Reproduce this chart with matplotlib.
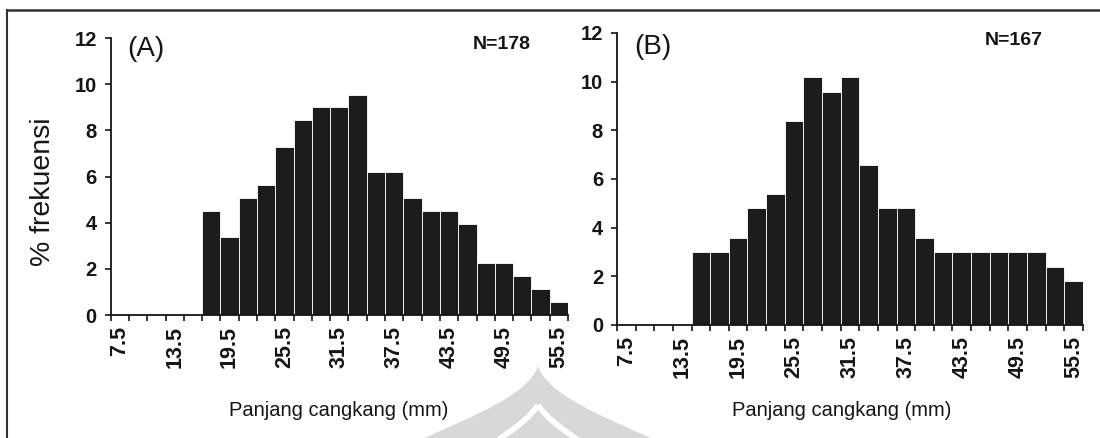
import matplotlib
matplotlib.use("Agg")
import matplotlib.pyplot as plt
from matplotlib.lines import Line2D
from matplotlib.path import Path
from matplotlib.patches import PathPatch
from matplotlib.transforms import Affine2D

# Shell length classes (mm), 2 mm bins
size_classes = [7.5, 9.5, 11.5, 13.5, 15.5, 17.5, 19.5, 21.5, 23.5, 25.5, 27.5,
                29.5, 31.5, 33.5, 35.5, 37.5, 39.5, 41.5, 43.5, 45.5, 47.5,
                49.5, 51.5, 53.5, 55.5]

# Percent frequency per class
freq_a = [0, 0, 0, 0, 0, 4.49, 3.37, 5.06, 5.62, 7.30, 8.43, 8.99, 8.99,
          9.55, 6.18, 6.18, 5.06, 4.49, 4.49, 3.93, 2.25, 2.25, 1.69, 1.12, 0.56]
freq_b = [0, 0, 0, 0, 2.99, 2.99, 3.59, 4.79, 5.39, 8.38, 10.18, 9.58, 10.18,
          6.59, 4.79, 4.79, 3.59, 2.99, 2.99, 2.99, 2.99, 2.99, 2.99, 2.40, 1.80]

shown_labels = ["7.5", "13.5", "19.5", "25.5", "31.5", "37.5", "43.5", "49.5", "55.5"]
y_ticks = [0, 2, 4, 6, 8, 10, 12]

panel_tags = ["(A)", "(B)"]
sample_sizes = ["N=178", "N=167"]
x_title = "Panjang cangkang (mm)"
y_title = "% frekuensi"

FONT = ["Liberation Sans", "DejaVu Sans"]
INK = "#151515"
BAR = "#1c1c1c"

W, H = 1100, 438
fig = plt.figure(figsize=(W / 100, H / 100), dpi=100)
fig.patch.set_facecolor("white")

# Pale emblem printed behind the lower middle of the page (pixel units, y down)
px = Affine2D().scale(1 / W, -1 / H).translate(0, 1) + fig.transFigure
MV, CU, CL = Path.MOVETO, Path.CURVE4, Path.CLOSEPOLY
emblem = Path(
    [(538, 366), (548, 395), (600, 415), (655, 440),
     (420, 440), (475, 415), (528, 395), (538, 366), (538, 366)],
    [MV, CU, CU, CU, Path.LINETO, CU, CU, CU, CL])
fig.add_artist(PathPatch(emblem, transform=px, facecolor="#d8d8d8",
                         edgecolor="none", zorder=0))
for pts in ([(538, 405), (528, 420), (512, 430), (498, 440)],
            [(538, 405), (548, 420), (564, 430), (578, 440)]):
    fig.add_artist(PathPatch(Path(pts, [MV, CU, CU, CU]), transform=px,
                             facecolor="none", edgecolor="white",
                             linewidth=4, zorder=0.5))

ax_a = fig.add_axes([0.1006, 0.2808, 0.4158, 0.6324])
ax_b = fig.add_axes([0.5609, 0.2580, 0.4236, 0.6667])


def draw_panel(ax, freq, tag, tag_y, n_text, n_x):
    pos = list(range(len(size_classes)))
    ax.bar(pos, freq, width=1.0, color=BAR, edgecolor="white", linewidth=0.6,
           zorder=2)
    ax.set_xlim(-0.5, len(size_classes) - 0.5)
    ax.set_ylim(0, 12)
    ax.set_facecolor("none")
    for s in ("top", "right"):
        ax.spines[s].set_visible(False)
    for s in ("left", "bottom"):
        ax.spines[s].set_linewidth(1.3)
        ax.spines[s].set_color(INK)

    label_pos = [i for i, v in enumerate(size_classes) if f"{v}" in shown_labels]
    ax.set_xticks(label_pos)
    ax.set_xticklabels([f"{size_classes[i]}" for i in label_pos], rotation=90,
                       fontsize=15.5, family=FONT, color=INK, fontweight="bold")
    ax.tick_params(axis="x", which="major", length=0, pad=8)
    ax.set_xticks([i - 0.5 for i in range(len(size_classes) + 1)], minor=True)
    ax.tick_params(axis="x", which="minor", length=4, width=1.2, color=INK,
                   direction="out")

    ax.set_yticks(y_ticks)
    ax.set_yticklabels([str(v) for v in y_ticks], fontsize=14.5, family=FONT,
                       color=INK, fontweight="bold")
    ax.tick_params(axis="y", length=4, width=1.2, color=INK, pad=6)

    ax.text(0.036, tag_y, tag, transform=ax.transAxes, fontsize=20, family=FONT,
            color=INK, va="center", ha="left")
    ax.text(n_x, 0.975, n_text, transform=ax.transAxes, fontsize=14,
            family=FONT, color=INK, va="center", ha="center", fontweight="bold")


draw_panel(ax_a, freq_a, panel_tags[0], 0.960, sample_sizes[0], 0.855)
draw_panel(ax_b, freq_b, panel_tags[1], 0.952, sample_sizes[1], 0.852)

fig.text(0.308, 0.062, x_title, fontsize=14.5, family=FONT, color=INK,
         ha="center", va="center")
fig.text(0.765, 0.062, x_title, fontsize=14.5, family=FONT, color=INK,
         ha="center", va="center")
fig.text(0.039, 0.562, y_title, fontsize=20.5, family=FONT, color=INK,
         rotation=90, ha="center", va="center")

# Page frame lines (left and top)
fig.add_artist(Line2D([0.0065, 0.0065], [0.0, 0.978], transform=fig.transFigure,
                      color="#333333", linewidth=1.5))
fig.add_artist(Line2D([0.0065, 1.0], [0.978, 0.978], transform=fig.transFigure,
                      color="#333333", linewidth=1.8))

fig.savefig("out.png", dpi=100, facecolor="white")
